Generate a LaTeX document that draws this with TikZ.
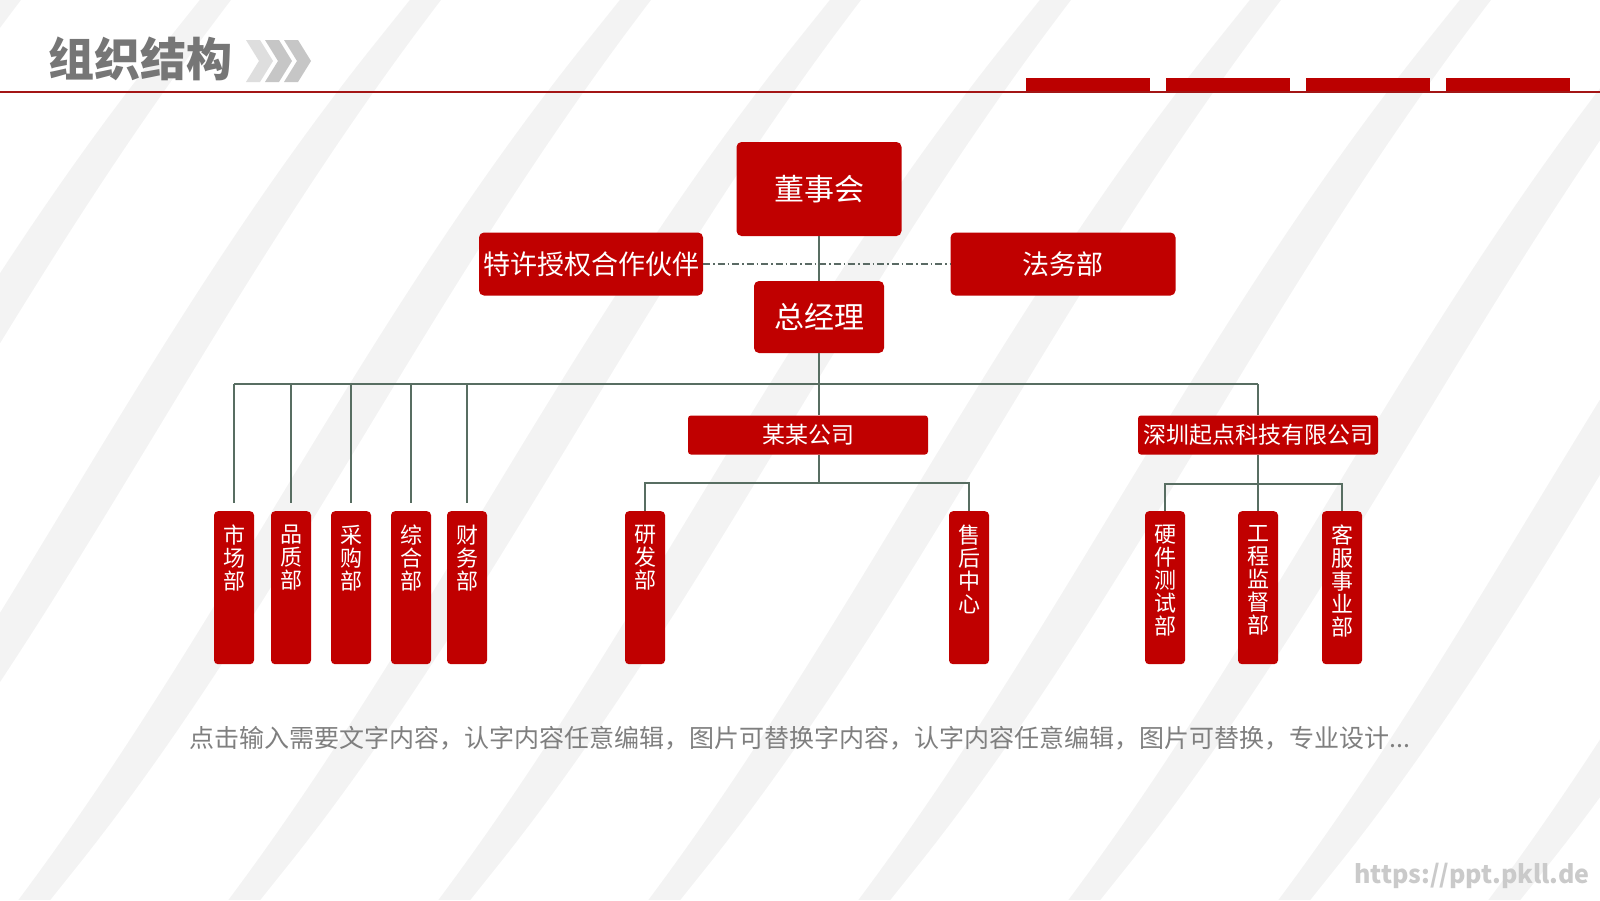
\documentclass[tikz,border=0pt]{standalone}
\usepackage{fontspec}
\newfontfamily\cjk{Noto Sans CJK SC}
\definecolor{boxred}{HTML}{C00000}
\definecolor{barred}{HTML}{BB0000}
\definecolor{rulered}{HTML}{A31515}
\definecolor{linegray}{HTML}{586E62}
\definecolor{dashgray}{HTML}{5A6A64}
\definecolor{titlegray}{HTML}{767676}
\definecolor{chevlight}{HTML}{DEDEDE}
\definecolor{chevgray}{HTML}{C6C6C6}
\definecolor{notegray}{HTML}{7F7F7F}
\definecolor{wmgray}{HTML}{CACACA}
\definecolor{bggray}{HTML}{F3F3F3}
\newcommand\vcol[1]{\parbox[c][153pt][t]{40pt}{\centering\vspace*{14pt}#1}}
\begin{document}
\begin{tikzpicture}[x=1pt,y=-1pt,
  box/.style={fill=boxred, rounded corners=5, text=white, inner sep=0, font=\cjk\fontsize{27}{30}\selectfont},
  firm/.style={fill=boxred, rounded corners=3, text=white, inner sep=0, minimum width=240, minimum height=39, font=\cjk\fontsize{23}{25}\selectfont},
  dept/.style={fill=boxred, rounded corners=4, text=white, inner sep=0, anchor=north, font=\cjk\fontsize{22}{23}\selectfont},
  link/.style={draw=linegray, line width=1.6},
  stripe/.style={white, line width=140}]
\useasboundingbox (0,0) rectangle (1600,900);
\fill[bggray] (0,0) rectangle (1600,900);
\begin{scope}
\clip (0,0) rectangle (1600,900);
\foreach \s in {-700,-490,...,1700}
  \draw[stripe] (\s-80,1000) -- (\s,900) .. controls (\s+220,620) and (\s+360,300) .. (\s+600,0) -- (\s+680,-100);
\end{scope}
\node[anchor=west, inner sep=0, text=titlegray, font=\cjk\bfseries\fontsize{46}{46}\selectfont] (title) at (48,59) {组织结构};
\foreach \i/\c in {0/chevlight,1/chevgray,2/chevgray}
  \fill[\c] ({246+19*\i},40) -- ++(14,0) -- ++(13,21) -- ++(-13,21) -- ++(-14,0) -- ++(13,-21) -- cycle;
\draw[rulered, line width=1.3] (0,92) -- (1600,92);
\foreach \x in {1026,1166,1306,1446}
  \fill[barred] (\x,78) rectangle ++(124,13);
\node[box, minimum width=165, minimum height=94, font=\cjk\fontsize{30}{32}\selectfont] (board) at (819,189) {董事会};
\node[box, minimum width=224, minimum height=63] (partner) at (591,264) {特许授权合作伙伴};
\node[box, minimum width=225, minimum height=63] (legal) at (1063,264) {法务部};
\node[box, minimum width=130, minimum height=72, font=\cjk\fontsize{30}{32}\selectfont] (gm) at (819,317) {总经理};
\node[firm] (firm1) at (808,435) {某某公司};
\node[firm] (firm2) at (1258,435) {深圳起点科技有限公司};
\node[dept] (mkt) at (234,511) {\vcol{市\\场\\部}};
\node[dept] (qa) at (291,511) {\vcol{品\\质\\部}};
\node[dept] (pur) at (351,511) {\vcol{采\\购\\部}};
\node[dept] (adm) at (411,511) {\vcol{综\\合\\部}};
\node[dept] (fin) at (467,511) {\vcol{财\\务\\部}};
\node[dept] (rd) at (645,511) {\vcol{研\\发\\部}};
\node[dept] (as) at (969,511) {\vcol{售\\后\\中\\心}};
\node[dept] (hw) at (1165,511) {\vcol{硬\\件\\测\\试\\部}};
\node[dept] (eng) at (1258,511) {\vcol{工\\程\\监\\督\\部}};
\node[dept] (cs) at (1342,511) {\vcol{客\\服\\事\\业\\部}};
\coordinate (bus) at (819,384);
\coordinate (sub1) at (819,483);
\coordinate (sub2) at (1258,484);
\draw[link] (board) -- (gm);
\draw[dashgray, line width=1.2, dash pattern=on 7pt off 3pt on 1.5pt off 3pt] (partner.east) -- (legal.west);
\draw[link] (gm) -- (bus);
\draw[link] (mkt.north |- bus) -- (firm2.north |- bus);
\foreach \d in {mkt,qa,pur,adm,fin}
  \draw[link, shorten >=8] (\d.north |- bus) -- (\d.north);
\draw[link] (bus) -- (bus |- firm1.north);
\draw[link] (bus |- firm1.south) -- (sub1);
\draw[link] (rd.north) -- (rd.north |- sub1) -- (as.north |- sub1) -- (as.north);
\draw[link] (firm2.north |- bus) -- (firm2.north);
\draw[link] (firm2.south) -- (eng.north);
\draw[link] (hw.north) -- (hw.north |- sub2) -- (cs.north |- sub2) -- (cs.north);
\node[text=notegray, font=\cjk\fontsize{25}{27}\selectfont] (note) at (800,738) {点击输入需要文字内容，认字内容任意编辑，图片可替换字内容，认字内容任意编辑，图片可替换，专业设计...};
\node[anchor=east, inner sep=0, text=wmgray, font=\cjk\bfseries\fontsize{25}{25}\selectfont] (wm) at (1590,876) {https://ppt.pkll.de};
\end{tikzpicture}
\end{document}
